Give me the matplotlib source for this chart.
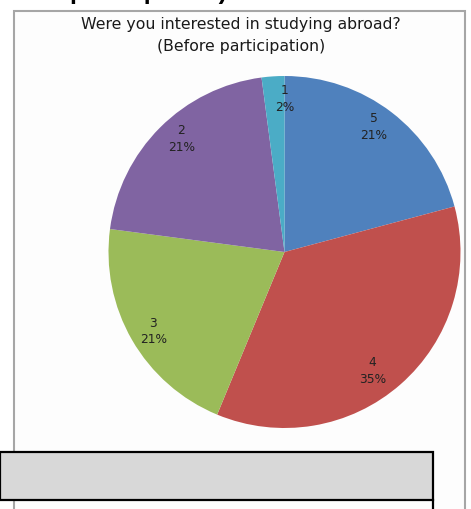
import numpy as np
import matplotlib
matplotlib.use("Agg")
import matplotlib.pyplot as plt
from matplotlib.patches import Rectangle

# survey answers (scale 1-5), counts
categories = ["5", "4", "3", "2", "1"]
counts = [10, 17, 10, 10, 1]
colors = ["#4F81BD", "#C0504D", "#9BBB59", "#8064A2", "#4BACC6"]

W, H = 471, 509
fig = plt.figure(figsize=(W / 100, H / 100), dpi=100)
fig.patch.set_facecolor("white")

def fx(px):
    return px / W

def fy(py):
    return 1 - py / H

# chart frame
fig.patches.append(Rectangle((fx(13.5), fy(520)), fx(465) - fx(13.5), fy(10.5) - fy(520),
                             transform=fig.transFigure, facecolor="#FDFDFD",
                             edgecolor="#A6A6A6", linewidth=1.5, zorder=-5))

# cut off text at the very top (only descenders show)
fig.text(fx(69), fy(-1), "participation)", fontsize=18, fontweight="bold",
         family="Liberation Sans", ha="left", va="baseline", color="black")

# title
fig.text(fx(241), fy(24), "Were you interested in studying abroad?", fontsize=11.3,
         ha="center", va="center", color="#1a1a1a")
fig.text(fx(241), fy(47), "(Before participation)", fontsize=11.3,
         ha="center", va="center", color="#1a1a1a")

# pie
cx, cy, r = 284.5, 252, 176
ax = fig.add_axes([fx(cx - r), fy(cy + r), fx(2 * r), fy(cy - r) - fy(cy + r)])
ax.set_zorder(1)
lab = iter(categories)
wedges, texts, autotexts = ax.pie(
    counts, colors=colors, startangle=90, counterclock=False,
    autopct=lambda p: "%s\n%.0f%%" % (next(lab), p), pctdistance=0.86,
    textprops={"fontsize": 8.8, "color": "#222222", "linespacing": 1.35},
    wedgeprops={"linewidth": 0})
# small nudges like the excel label placement (pixels)
nudge = [(-3, 5), (-12, -5), (0, -4), (4, 6), (10, 2)]
for t, (dx, dy) in zip(autotexts, nudge):
    x, y = t.get_position()
    t.set_position((x + dx / r, y + dy / r))
ax.set_xlim(-1, 1)
ax.set_ylim(-1, 1)
ax.axis("off")

# grey box at the bottom
fig.patches.append(Rectangle((fx(0), fy(500)), fx(433), fy(452) - fy(500),
                             transform=fig.transFigure, facecolor="#D8D8D8",
                             edgecolor="black", linewidth=1.6, zorder=3))
fig.lines.append(plt.Line2D([fx(433), fx(433)], [fy(500), fy(512)],
                            transform=fig.transFigure, color="black", linewidth=1.6, zorder=3))

fig.savefig("out.png", dpi=100)
